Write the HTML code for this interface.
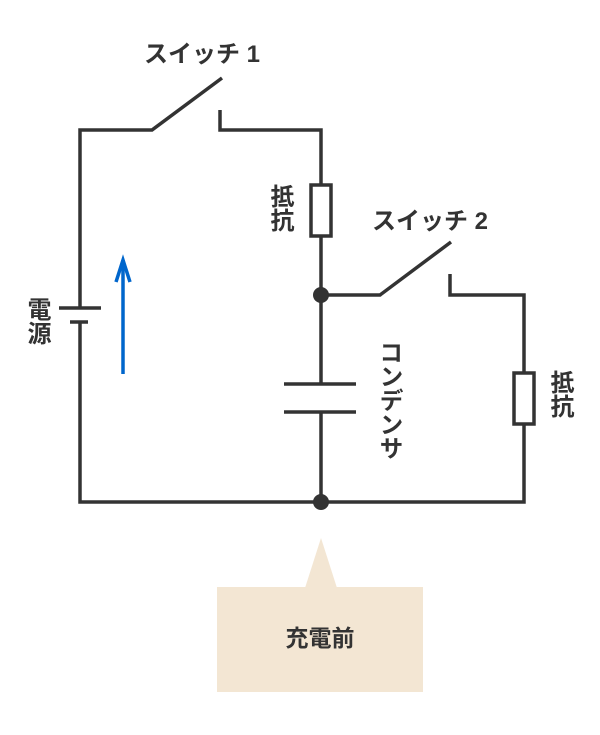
<!DOCTYPE html>
<html><head><meta charset="utf-8"><style>
body{margin:0;background:#fff;}
svg text{font-family:"Liberation Sans","Noto Sans CJK JP",sans-serif;font-weight:bold;fill:#333;}
.v{position:absolute;writing-mode:vertical-rl;font-family:"Liberation Sans","Noto Sans CJK JP",sans-serif;font-weight:bold;color:#333;font-size:24px;line-height:1;}
</style></head><body>
<div style="position:relative;width:600px;height:735px;">
<svg width="600" height="735" style="position:absolute;left:0;top:0">
<g stroke="#333" stroke-width="3.5" fill="none">
<polyline points="80,308 80,130 152,130 222,78"/>
<polyline points="220,110 220,130 321,130 321,185"/>
<rect x="311" y="185" width="20" height="51" fill="#fff"/>
<line x1="321" y1="236" x2="321" y2="384"/>
<polyline points="321,295 380,295 451,242"/>
<polyline points="450,274 450,295 524,295 524,373"/>
<rect x="514" y="373" width="20" height="51" fill="#fff"/>
<polyline points="524,424 524,502 80,502 80,322"/>
<line x1="321" y1="412" x2="321" y2="502"/>
<line x1="284" y1="384" x2="356" y2="384"/>
<line x1="284" y1="412" x2="356" y2="412"/>
<line x1="59" y1="308" x2="101" y2="308"/>
<line x1="70" y1="322" x2="88" y2="322"/>
</g>
<circle cx="321" cy="295" r="8" fill="#333"/>
<circle cx="321" cy="502" r="8" fill="#333"/>
<g stroke="#0066cc" stroke-width="3.5" fill="none">
<line x1="123" y1="374" x2="123" y2="260"/>
<polyline points="116,282 123,260 130,282"/>
</g>
<polygon points="321,538 305,588 337,588" fill="#f3e6d3"/>
<rect x="217" y="587" width="206" height="105" fill="#f3e6d3"/>
<text x="202" y="62" font-size="24" text-anchor="middle">スイッチ 1</text>
<text x="430" y="229" font-size="24" text-anchor="middle">スイッチ 2</text>
<text x="320" y="646" font-size="23" text-anchor="middle">充電前</text>
</svg>
<div class="v" style="left:267px;top:184px;">抵抗</div>
<div class="v" style="left:547px;top:370px;">抵抗</div>
<div class="v" style="left:24px;top:297px;">電源</div>
<div class="v" style="left:376px;top:340px;">コンデンサ</div>
</div>
</body></html>
